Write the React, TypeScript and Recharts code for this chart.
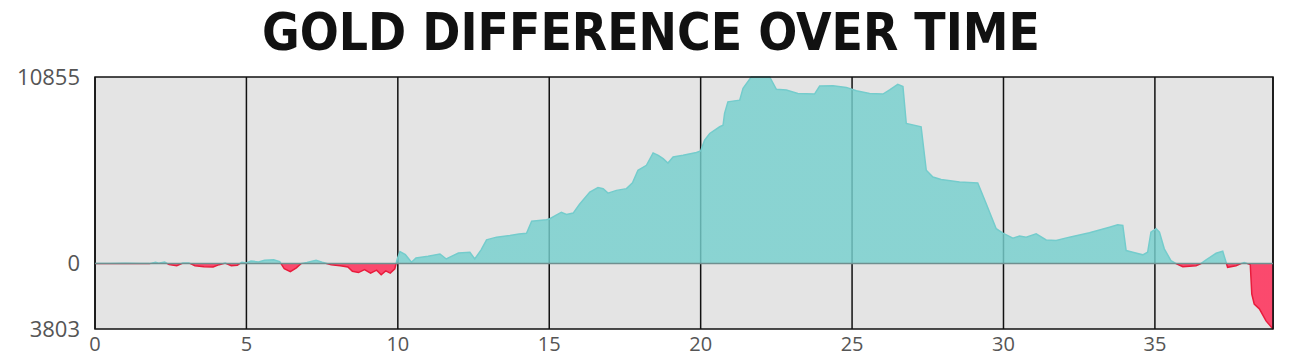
import React from 'react';
import { AreaChart, Area, XAxis, YAxis, CartesianGrid, ReferenceLine, ReferenceArea } from 'recharts';

const minutes: number[] = [
  0, 0.5, 1.0, 1.5, 1.8, 2.0, 2.1, 2.3, 2.45, 2.7, 2.9, 3.1, 3.3, 3.6, 3.9, 4.1, 4.3, 4.5, 4.7, 4.85,
  5.0, 5.15, 5.4, 5.6, 5.9, 6.1, 6.25, 6.45, 6.65, 6.8, 7.0, 7.3, 7.5, 7.8, 8.1, 8.35, 8.5, 8.7, 8.9, 9.1,
  9.3, 9.45, 9.6, 9.75, 9.9, 9.98, 10.07, 10.25, 10.45, 10.6, 11.0, 11.39, 11.6, 12.0, 12.38, 12.54, 12.75, 12.93, 13.26, 13.7,
  14.0, 14.25, 14.42, 14.91, 15.02, 15.4, 15.57, 15.79, 16.0, 16.34, 16.61, 16.78, 16.94, 17.22, 17.55, 17.75, 17.93, 18.21, 18.43, 18.6,
  18.76, 18.92, 19.09, 19.42, 19.86, 20.0, 20.13, 20.3, 20.63, 20.74, 20.79, 20.9, 21.29, 21.4, 21.67, 22.28, 22.5, 22.83, 23.21, 23.76,
  23.93, 24.37, 24.81, 25.14, 25.58, 26.02, 26.24, 26.51, 26.68, 26.79, 27.28, 27.45, 27.67, 27.94, 28.55, 29.15, 29.43, 29.76, 29.98, 30.31,
  30.53, 30.75, 31.08, 31.41, 31.74, 32.18, 32.84, 33.5, 33.77, 33.94, 34.05, 34.27, 34.6, 34.76, 34.87, 35.04, 35.15, 35.31, 35.53, 35.7,
  35.92, 36.36, 36.52, 36.69, 37.02, 37.24, 37.35, 37.4, 37.68, 37.84, 37.95, 38.06, 38.15, 38.2, 38.28, 38.45, 38.67, 38.9,
];

const goldDiff: number[] = [
  0, 10, 20, 10, 0, 80, 20, 90, -60, -120, 30, 40, -120, -180, -200, -60, 30, -120, -90, 80,
  40, 150, 100, 200, 230, 120, -300, -470, -250, 0, 60, 200, 80, -60, -120, -200, -450, -520, -350, -560,
  -380, -650, -420, -550, -300, 250, 700, 520, 80, 330, 430, 560, 270, 620, 660, 270, 800, 1380, 1540, 1630,
  1720, 1770, 2470, 2550, 2610, 2990, 2860, 2940, 3450, 4160, 4420, 4360, 4100, 4260, 4360, 4700, 5430, 5720, 6440, 6300,
  6110, 5850, 6200, 6300, 6460, 6550, 7180, 7570, 7960, 8050, 8740, 9410, 9510, 10200, 10855, 10855, 10140, 10100, 9900, 9860,
  10330, 10350, 10250, 10060, 9900, 9860, 10100, 10430, 10300, 8150, 7960, 5430, 5040, 4890, 4750, 4690, 3480, 2030, 1770, 1480,
  1600, 1540, 1730, 1380, 1340, 1540, 1790, 2120, 2260, 2220, 760, 660, 510, 660, 1830, 2030, 1830, 860, 175, 0,
  -175, -120, 0, 215, 600, 720, 80, -215, -120, 0, 60, 0, -60, -1770, -2350, -2630, -3330, -3803,
];

const xTicks: number[] = [0, 5, 10, 15, 20, 25, 30, 35];
const yTicks: number[] = [-3803, 0, 10855];
const titleText = 'GOLD DIFFERENCE OVER TIME';

const rows = minutes.map((t, i) => ({ t, gold: goldDiff[i] }));
const yMax = Math.max(...goldDiff);
const yMin = Math.min(...goldDiff);
const xMax = minutes[minutes.length - 1];
const splitOffset = yMax / (yMax - yMin);

const yTickStyle = { fontFamily: "'Open Sans', sans-serif", fontSize: 22, fill: '#555' };
const xTickStyle = { fontFamily: "'Open Sans', sans-serif", fontSize: 20, fill: '#555' };

export default function App() {
  return (
    <div style={{ position: 'relative', width: 1307, height: 351 }}>
      <AreaChart
        width={1307}
        height={351}
        data={rows}
        margin={{ top: 69, right: 42, bottom: 0, left: 0 }}
      >
        <defs>
          <linearGradient id="goldFill" x1="0" y1="0" x2="0" y2="1">
            <stop offset={splitOffset} stopColor="#76d0ce" stopOpacity={0.82} />
            <stop offset={splitOffset} stopColor="#ff2e58" stopOpacity={0.85} />
          </linearGradient>
          <linearGradient id="goldStroke" x1="0" y1="0" x2="0" y2="1">
            <stop offset={splitOffset} stopColor="#74cccc" />
            <stop offset={splitOffset} stopColor="#e81c3c" />
          </linearGradient>
        </defs>
        <CartesianGrid
          horizontal={false}
          vertical={true}
          stroke="#111"
          strokeWidth={1.5}
          fill="#e4e4e4"
          fillOpacity={1}
        />
        <XAxis
          dataKey="t"
          type="number"
          domain={[0, xMax]}
          ticks={xTicks}
          axisLine={false}
          tickLine={false}
          tickMargin={2}
          height={30}
          tick={xTickStyle}
          interval={0}
        />
        <YAxis
          type="number"
          domain={[yMin, yMax]}
          ticks={yTicks}
          axisLine={false}
          tickLine={false}
          tickMargin={9}
          width={87}
          tick={yTickStyle}
          interval={0}
          tickFormatter={(v: number) => String(Math.abs(v))}
        />
        <ReferenceLine y={0} stroke="#6f8f8f" strokeWidth={1.5} />
        <Area
          type="linear"
          dataKey="gold"
          stroke="url(#goldStroke)"
          strokeWidth={1.5}
          fill="url(#goldFill)"
          fillOpacity={1}
          isAnimationActive={false}
          dot={false}
          activeDot={false}
        />
        <ReferenceArea
          x1={0}
          x2={xMax}
          y1={yMin}
          y2={yMax}
          fill="none"
          fillOpacity={0}
          stroke="#111"
          strokeWidth={1.5}
        />
      </AreaChart>
      <svg
        width={1307}
        height={68}
        style={{ position: 'absolute', left: 0, top: -8, pointerEvents: 'none' }}
      >
        <text
          x={643}
          y={50}
          textAnchor="middle"
          textLength={778}
          lengthAdjust="spacingAndGlyphs"
          fontFamily="'Liberation Sans Narrow', 'DejaVu Sans Condensed', 'Roboto Condensed', sans-serif"
          fontWeight="bold"
          fontSize={52}
          fill="#111"
        >
          {titleText}
        </text>
      </svg>
    </div>
  );
}
